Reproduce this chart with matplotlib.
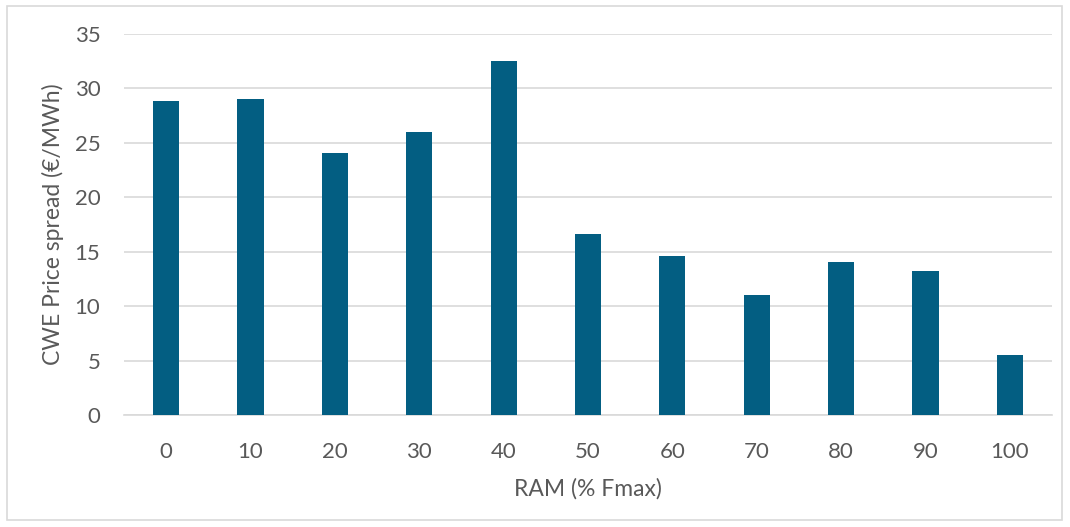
import matplotlib.pyplot as plt
from matplotlib.patches import Rectangle

plt.rcParams.update({'font.family': ['Lato', 'DejaVu Sans'], 'font.size': 16})

ram = ['0', '10', '20', '30', '40', '50', '60', '70', '80', '90', '100']
spread = [28.8, 29.0, 24.1, 26.0, 32.5, 16.6, 14.6, 11.05, 14.05, 13.2, 5.55]

bar_color = '#035E82'
text_color = '#595959'
grid_color = '#D9D9D9'

fig = plt.figure(figsize=(10.7, 5.27), dpi=100)
ax = fig.add_axes([0.1159, 0.212, 0.8673, 0.7241])

ax.bar(ram, spread, width=0.31, color=bar_color, zorder=3)

ax.set_xlim(-0.5, len(ram) - 0.5)
ax.set_ylim(0, 35)
ax.set_yticks(range(0, 36, 5))
ax.grid(axis='y', color=grid_color, linewidth=1.2, zorder=0)

for side in ['top', 'right', 'left']:
    ax.spines[side].set_visible(False)
ax.spines['bottom'].set_color(grid_color)
ax.spines['bottom'].set_linewidth(1.2)

ax.tick_params(axis='both', length=0, colors=text_color, labelsize=16)
ax.tick_params(axis='x', pad=19)
ax.tick_params(axis='y', pad=17)

ax.set_xlabel('RAM (% Fmax)', color=text_color, fontsize=16.5, labelpad=12)
ax.set_ylabel('CWE Price spread (€/MWh)', color=text_color, fontsize=16.5, labelpad=8)

# light frame round the whole chart
fig.patches.append(Rectangle((0.0065, 0.013), 0.986, 0.975, transform=fig.transFigure,
                             fill=False, edgecolor='#D9D9D9', linewidth=1.2))

fig.savefig('out.png', dpi=100)
